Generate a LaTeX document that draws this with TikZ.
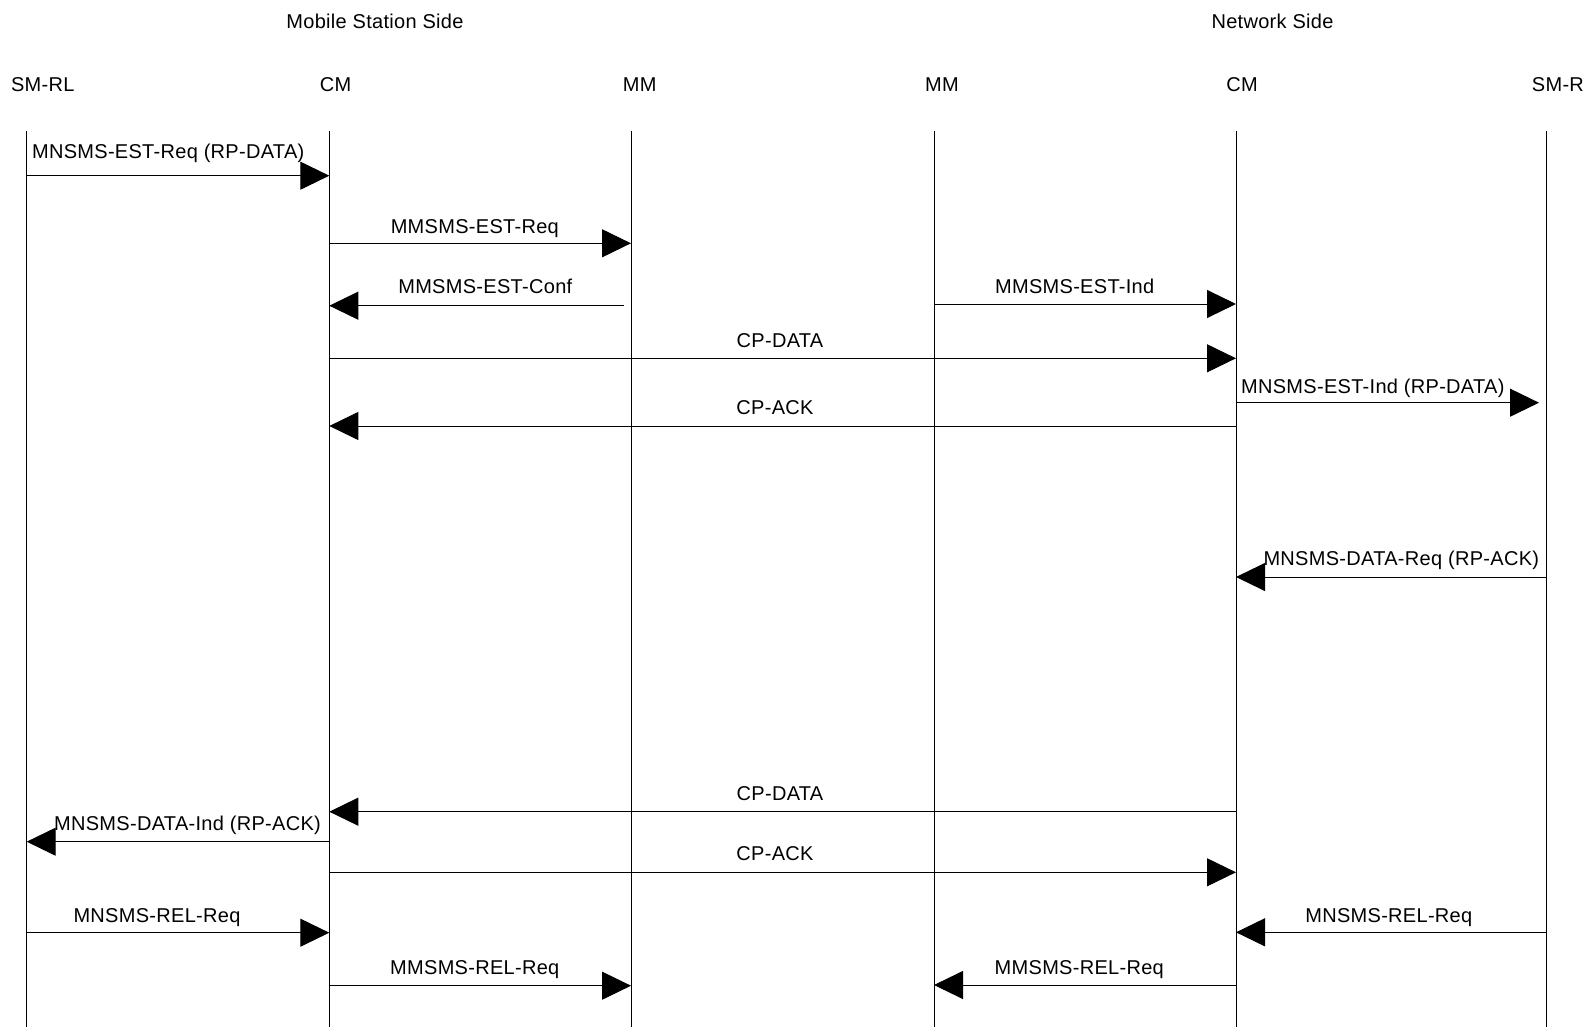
\documentclass[tikz,border=0pt]{standalone}
\usepackage{fontspec}
\setmainfont[LetterSpace=1.5]{Liberation Sans}
\usetikzlibrary{arrows.meta}
\begin{document}
\begin{tikzpicture}[x=1pt,y=-1pt,
  lifeline/.style={draw=black,line width=1pt},
  msg/.style={draw=black,line width=1pt,-{Triangle[length=29pt,width=28pt]}},
  lbl/.style={inner sep=0pt,anchor=base,font=\fontsize{20}{24}\selectfont},
  hdr/.style={inner sep=0pt,anchor=base,font=\fontsize{20}{24}\selectfont}]
\useasboundingbox[fill=white] (0,0) rectangle (1584,1027);

% headers
\node[hdr] (mss) at (375,28.5) {Mobile Station Side};
\node[hdr] (ns) at (1272.5,28.5) {Network Side};
\node[hdr] (h1) at (42.8,91.5) {SM-RL};
\node[hdr] (h2) at (335.5,91.5) {CM};
\node[hdr] (h3) at (639.7,91.5) {MM};
\node[hdr] (h4) at (942,91.5) {MM};
\node[hdr] (h5) at (1242,91.5) {CM};
\node[hdr,anchor=base west] (h6) at (1531.7,91.5) {SM-RL};

% lifelines
\coordinate (L1) at (26.7,131);   \coordinate (B1) at (26.7,1030);
\coordinate (L2) at (329.3,131);  \coordinate (B2) at (329.3,1030);
\coordinate (L3) at (631,131);    \coordinate (B3) at (631,1030);
\coordinate (L4) at (934,131);    \coordinate (B4) at (934,1030);
\coordinate (L5) at (1236,131);   \coordinate (B5) at (1236,1030);
\coordinate (L6) at (1546,131);   \coordinate (B6) at (1546,1030);
\foreach \i in {1,...,6} {\draw[lifeline] (L\i) -- (B\i);}

% message rows
\coordinate (r1) at (0,175.7);
\coordinate (r2) at (0,243.3);
\coordinate (r3) at (0,305.7);
\coordinate (r4) at (0,304);
\coordinate (r5) at (0,358.3);
\coordinate (r6) at (0,402.7);
\coordinate (r7) at (0,426);
\coordinate (r8) at (0,577);
\coordinate (r9) at (0,811.7);
\coordinate (r10) at (0,841.7);
\coordinate (r11) at (0,872.3);
\coordinate (r12) at (0,932.7);
\coordinate (r13) at (0,932.3);
\coordinate (r14) at (0,985.7);
\coordinate (r15) at (0,985);

\draw[msg] (L1 |- r1) -- (L2 |- r1);
\node[lbl] (t1) at (168.2,158.9) {MNSMS-EST-Req (RP-DATA)};

\draw[msg] (L2 |- r2) -- (L3 |- r2);
\node[lbl] (t2) at (474.8,233.9) {MMSMS-EST-Req};

\draw[msg] ([xshift=-6.7pt]L3 |- r3) -- (L2 |- r3);
\node[lbl] (t3) at (485.3,293.9) {MMSMS-EST-Conf};

\draw[msg] (L4 |- r4) -- (L5 |- r4);
\node[lbl] (t4) at (1074.7,293.2) {MMSMS-EST-Ind};

\draw[msg] (L2 |- r5) -- (L5 |- r5);
\node[lbl] (t5) at (780,347.2) {CP-DATA};

\draw[msg] (L5 |- r6) -- ([xshift=-7pt]L6 |- r6);
\node[lbl] (t6) at (1372.8,393.9) {MNSMS-EST-Ind (RP-DATA)};

\draw[msg] (L5 |- r7) -- (L2 |- r7);
\node[lbl] (t7) at (775,414.2) {CP-ACK};

\draw[msg] (L6 |- r8) -- (L5 |- r8);
\node[lbl] (t8) at (1401.3,565.5) {MNSMS-DATA-Req (RP-ACK)};

\draw[msg] (L5 |- r9) -- (L2 |- r9);
\node[lbl] (t9) at (780,800.5) {CP-DATA};

\draw[msg] (L2 |- r10) -- (L1 |- r10);
\node[lbl] (t10) at (187.5,830.5) {MNSMS-DATA-Ind (RP-ACK)};

\draw[msg] (L2 |- r11) -- (L5 |- r11);
\node[lbl] (t11) at (775,860.5) {CP-ACK};

\draw[msg] (L1 |- r12) -- (L2 |- r12);
\node[lbl] (t12) at (157,922.2) {MNSMS-REL-Req};

\draw[msg] (L6 |- r13) -- (L5 |- r13);
\node[lbl] (t13) at (1388.8,922.2) {MNSMS-REL-Req};

\draw[msg] (L2 |- r14) -- (L3 |- r14);
\node[lbl] (t14) at (474.8,974.9) {MMSMS-REL-Req};

\draw[msg] (L5 |- r15) -- (L4 |- r15);
\node[lbl] (t15) at (1079.3,974.9) {MMSMS-REL-Req};
\end{tikzpicture}
\end{document}
